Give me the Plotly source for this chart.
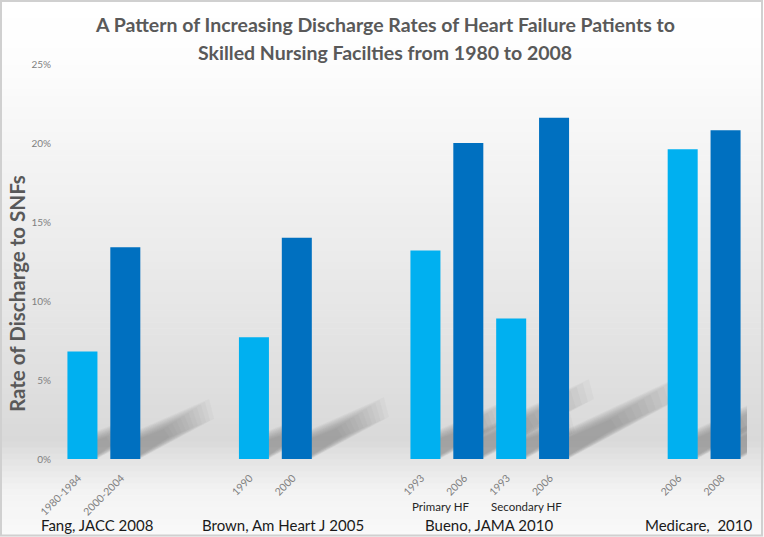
import plotly.graph_objects as go

# ---------------- data ----------------
groups = ["Fang, JACC 2008", "Brown, Am Heart J 2005", "Bueno, JAMA 2010", "Medicare,  2010"]
tick_labels = ["1980-1984", "2000-2004", "1990", "2000", "1993", "2006", "1993", "2006", "2006", "2008"]
slots = [0, 1, 4, 5, 8, 9, 10, 11, 14, 15]
rates = [6.8, 13.4, 7.7, 14.0, 13.2, 20.0, 8.9, 21.6, 19.6, 20.8]
is_later = [False, True, False, True, False, True, False, True, False, True]
sub_labels = ["Primary HF", "Secondary HF"]
y_ticks = [0, 5, 10, 15, 20, 25]
y_tick_text = ["0%", "5%", "10%", "15%", "20%", "25%"]

LIGHT = "#00B0F0"
DARK = "#0070C0"

W, H = 764, 537
L, R, T, B = 61, 17, 64, 78
PW, PH = W - L - R, H - T - B


def px2paper(px, py):
    return (px - L) / PW, (H - B - py) / PH


fig = go.Figure()

fig.add_trace(go.Bar(
    x=slots, y=rates,
    marker=dict(color=[DARK if d else LIGHT for d in is_later], line=dict(width=0)),
    width=0.7,
    hoverinfo="x+y",
    showlegend=False,
))

shapes = []

# background gradient
stops = [(0, 255), (60, 253), (200, 240), (330, 228), (440, 217), (462, 229), (490, 243), (537, 249)]
N = 90
for i in range(N):
    y0 = i * H / N
    y1 = (i + 1) * H / N
    ym = (y0 + y1) / 2
    for j in range(len(stops) - 1):
        if stops[j][0] <= ym <= stops[j + 1][0]:
            a, b = stops[j], stops[j + 1]
            c = a[1] + (b[1] - a[1]) * (ym - a[0]) / (b[0] - a[0])
            break
    c = int(round(c))
    x0p, y0p = px2paper(0, y0)
    x1p, y1p = px2paper(W, y1 + 0.6)
    shapes.append(dict(type="rect", xref="paper", yref="paper", x0=x0p, x1=x1p, y0=y1p, y1=y0p,
                       fillcolor=f"rgb({c},{c},{c})", line=dict(width=0), layer="below"))

# soft cast shadows derived from bar positions / heights
k, m = 0.13, 0.19
NL = 12
for xs, h in zip(slots, rates):
    for i in range(NL):
        t = i / (NL - 1)
        frac = 1.0 - 0.6 * t          # shorter layers stack near the bar
        thick = 1.25 - 0.75 * t       # thinner layers form the core
        pad = 0.5 * (1.25 - thick)    # center the thinner layers in the band
        Ls = k * h * frac
        x0 = xs + 0.33
        ye = m * h * frac
        pts = [(x0, pad * 0.6), (x0 + Ls, ye + pad), (x0 + Ls - 0.12, ye + pad + thick),
               (xs - 0.2, pad * 0.6 + thick)]
        path = "M " + " L ".join(f"{a:.3f},{b:.3f}" for a, b in pts) + " Z"
        shapes.append(dict(type="path", xref="x", yref="y", path=path,
                           fillcolor="rgba(90,90,90,0.045)", line=dict(width=0), layer="below"))

# outer frame
shapes.append(dict(type="rect", xref="paper", yref="paper",
                   x0=px2paper(1, 0)[0], x1=px2paper(762, 0)[0],
                   y0=px2paper(0, 535.5)[1], y1=px2paper(0, 1)[1],
                   line=dict(color="#d0d0d0", width=2), fillcolor="rgba(0,0,0,0)", layer="above"))

annotations = []
# title lines
for txt, py in [("A Pattern of Increasing Discharge Rates of Heart Failure Patients to", 25),
                ("Skilled Nursing Facilties from 1980 to 2008", 52)]:
    xp, yp = px2paper(385, py)
    annotations.append(dict(text=txt, xref="paper", yref="paper", x=xp, y=yp,
                            xanchor="center", yanchor="middle", showarrow=False,
                            font=dict(family="Lato", size=19.5, color="#595959", weight="bold")))

# y title
xp, yp = px2paper(17, 294)
annotations.append(dict(text="Rate of Discharge to SNFs", xref="paper", yref="paper", x=xp, y=yp,
                        textangle=-90, xanchor="center", yanchor="middle", showarrow=False,
                        font=dict(family="Lato", size=20.5, color="#595959", weight="bold")))

# group labels
group_x = [0.34, 4.68, 9.48, 14.36]
_, gy = px2paper(0, 525)
for g, gx in zip(groups, group_x):
    annotations.append(dict(text=g, xref="x", yref="paper", x=gx, y=gy, xanchor="center",
                            yanchor="middle", showarrow=False,
                            font=dict(family="Lato", size=15, color="#1a1a1a")))

# sub labels
_, sy = px2paper(0, 506)
for s, sx in zip(sub_labels, [8.36, 10.35]):
    annotations.append(dict(text=s, xref="x", yref="paper", x=sx, y=sy, xanchor="center",
                            yanchor="middle", showarrow=False,
                            font=dict(family="Lato", size=11.5, color="#262626")))

fig.update_layout(
    width=W, height=H,
    margin=dict(l=L, r=R, t=T, b=B, autoexpand=False),
    paper_bgcolor="white", plot_bgcolor="rgba(0,0,0,0)",
    shapes=shapes, annotations=annotations,
    xaxis=dict(range=[-0.5, 15.5], tickvals=slots, ticktext=tick_labels, tickangle=-45,
               showgrid=False, zeroline=False, showline=False, ticks="",
               tickfont=dict(family="Lato", size=10.5, color="#7f7f7f"),
               ticklabelstandoff=10, ticklabelshift=-4),
    yaxis=dict(range=[0, 25], tickvals=y_ticks, ticktext=y_tick_text,
               showgrid=False, zeroline=False, showline=False, ticks="",
               tickfont=dict(family="Lato", size=10, color="#7f7f7f"), ticklabelstandoff=9),
)

fig.write_html("out.html", config={"displayModeBar": False},
               post_script="document.body.style.margin='0';")
